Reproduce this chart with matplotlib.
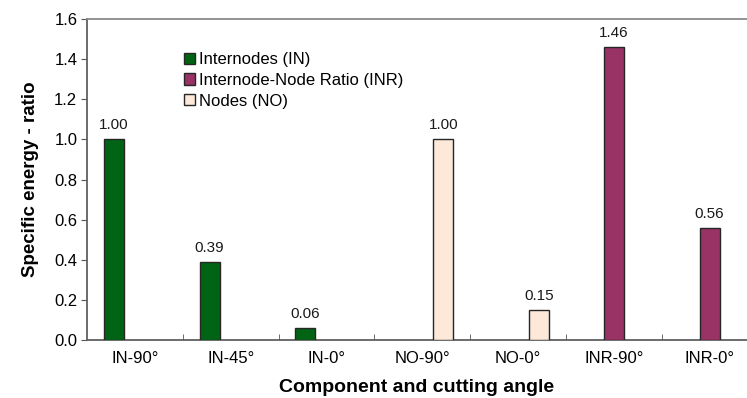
import matplotlib.pyplot as plt
import numpy as np

plt.rcParams['font.family'] = ['Liberation Sans', 'DejaVu Sans']

categories = ['IN-90°', 'IN-45°', 'IN-0°', 'NO-90°', 'NO-0°', 'INR-90°', 'INR-0°']
internodes = [1.00, 0.39, 0.06, 0, 0, 0, 0]
inr = [0, 0, 0, 0, 0, 1.46, 0.56]
nodes = [0, 0, 0, 1.00, 0.15, 0, 0]

series = [
    ('Internodes (IN)', internodes, '#006414', -0.22),
    ('Internode-Node Ratio (INR)', inr, '#993366', 0.0),
    ('Nodes (NO)', nodes, '#fde9d9', 0.22),
]

fig = plt.figure(figsize=(7.47, 3.98), dpi=100)
ax = fig.add_axes([87 / 747, 58 / 398, 660 / 747, 321 / 398])

x = np.arange(len(categories))
w = 0.21
for name, vals, color, off in series:
    vals = np.array(vals, dtype=float)
    keep = vals > 0
    bars = ax.bar(x[keep] + off, vals[keep], w, color=color, edgecolor='#262626',
                  linewidth=1.0, label=name, zorder=3)
    ax.bar_label(bars, fmt='%.2f', padding=5, fontsize=11, color='#1a1a1a')

ax.set_xlim(-0.5, 6.39)
ax.set_ylim(0, 1.6)
ax.set_yticks(np.arange(0, 1.61, 0.2))
ax.set_yticklabels([f'{v:.1f}' for v in np.arange(0, 1.61, 0.2)], fontsize=12)
ax.set_xticks(x)
ax.set_xticklabels(categories, fontsize=12)
ax.set_xticks(x[:-1] + 0.5, minor=True)
ax.tick_params(axis='x', which='major', length=0, pad=8)
ax.tick_params(axis='x', which='minor', direction='in', length=4, color='#555555')
ax.tick_params(axis='y', direction='out', length=4, color='#555555', pad=3)

for side in ['left', 'bottom', 'top']:
    ax.spines[side].set_color('#606060')
    ax.spines[side].set_linewidth(1.3)
ax.spines['top'].set_color('#8a8a8a')
ax.spines['right'].set_visible(False)

ax.set_ylabel('Specific energy - ratio', fontsize=13.5, fontweight='bold', labelpad=11)
ax.set_xlabel('Component and cutting angle', fontsize=14, fontweight='bold', labelpad=9)

ax.legend(loc='upper left', bbox_to_anchor=(184 / 747, 1 - 52 / 398),
          bbox_transform=fig.transFigure, frameon=False, fontsize=12,
          handlelength=0.65, handleheight=0.65, handletextpad=0.25,
          labelspacing=0.35, borderpad=0, borderaxespad=0)

fig.savefig('out.png', dpi=100)
